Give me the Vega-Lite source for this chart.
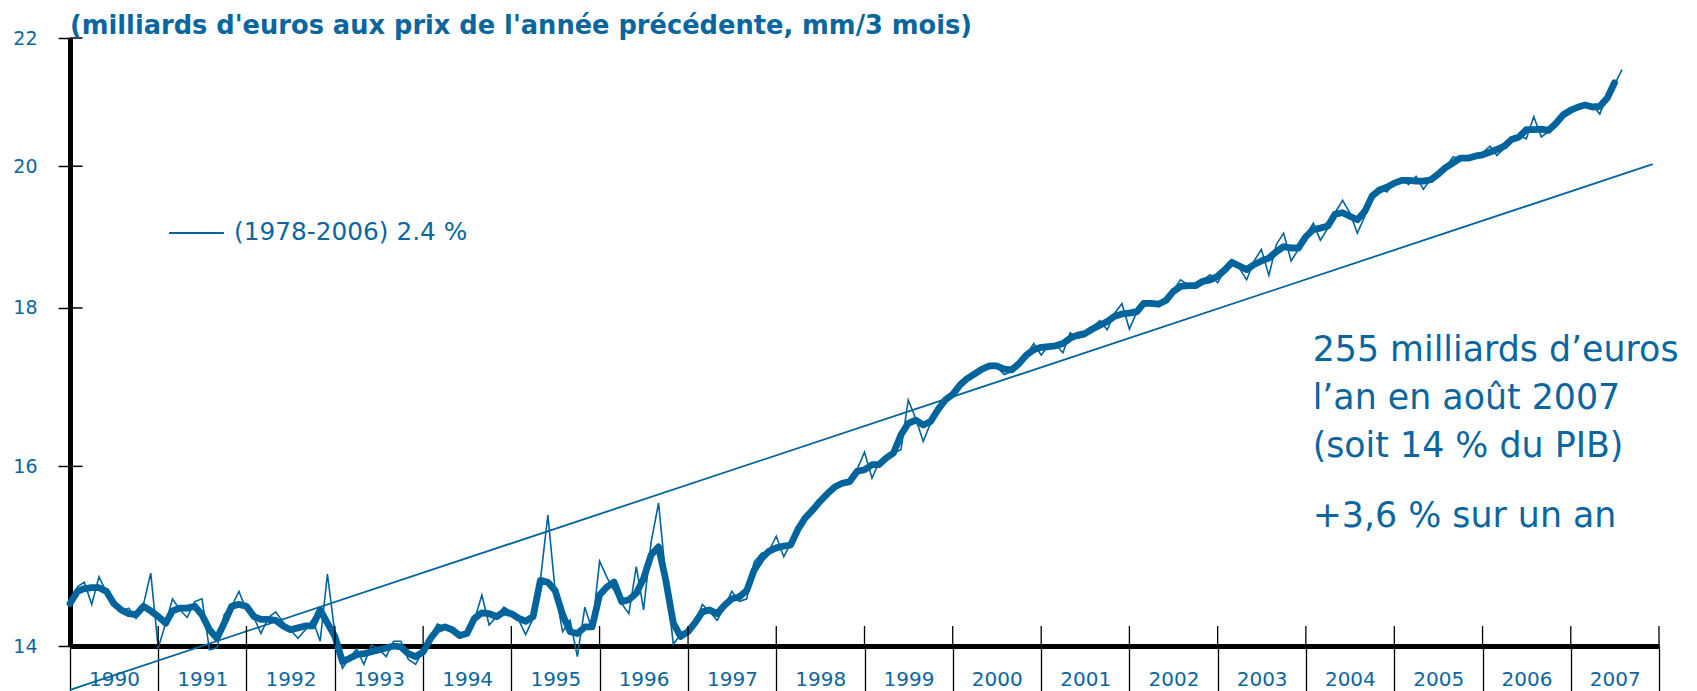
{
  "$schema": "https://vega.github.io/schema/vega-lite/v6.json",
  "width": 1589,
  "height": 608,
  "autosize": {"type": "none"},
  "padding": {"left": 70, "top": 38, "right": 38, "bottom": 45},
  "background": "white",
  "config": {"view": {"stroke": null}, "font": "DejaVu Sans"},
  "title": {
    "text": "(milliards d'euros aux prix de l'année précédente, mm/3 mois)",
    "anchor": "start",
    "frame": "group",
    "font": "DejaVu Sans",
    "fontSize": 25.7,
    "fontWeight": "bold",
    "color": "#0a669e",
    "offset": 2,
    "dy": 13
  },
  "datasets": {
    "series": [
      {"d": "1990-01-01", "m": 14.45, "a": 14.45},
      {"d": "1990-02-01", "m": 14.63, "a": 14.58},
      {"d": "1990-03-01", "m": 14.68, "a": 14.61},
      {"d": "1990-04-01", "m": 14.44, "a": 14.62},
      {"d": "1990-05-01", "m": 14.74, "a": 14.62},
      {"d": "1990-06-01", "m": 14.57, "a": 14.58},
      {"d": "1990-07-01", "m": 14.47, "a": 14.45},
      {"d": "1990-08-01", "m": 14.37, "a": 14.38},
      {"d": "1990-09-01", "m": 14.40, "a": 14.34},
      {"d": "1990-10-01", "m": 14.29, "a": 14.33},
      {"d": "1990-11-01", "m": 14.44, "a": 14.42},
      {"d": "1990-12-01", "m": 14.78, "a": 14.37},
      {"d": "1991-01-01", "m": 13.98, "a": 14.31},
      {"d": "1991-02-01", "m": 14.24, "a": 14.24},
      {"d": "1991-03-01", "m": 14.50, "a": 14.37},
      {"d": "1991-04-01", "m": 14.38, "a": 14.40},
      {"d": "1991-05-01", "m": 14.30, "a": 14.40},
      {"d": "1991-06-01", "m": 14.47, "a": 14.42},
      {"d": "1991-07-01", "m": 14.50, "a": 14.33},
      {"d": "1991-08-01", "m": 13.96, "a": 14.17},
      {"d": "1991-09-01", "m": 13.98, "a": 14.08},
      {"d": "1991-10-01", "m": 14.33, "a": 14.24},
      {"d": "1991-11-01", "m": 14.42, "a": 14.42},
      {"d": "1991-12-01", "m": 14.58, "a": 14.44},
      {"d": "1992-01-01", "m": 14.38, "a": 14.42},
      {"d": "1992-02-01", "m": 14.30, "a": 14.31},
      {"d": "1992-03-01", "m": 14.13, "a": 14.28},
      {"d": "1992-04-01", "m": 14.30, "a": 14.28},
      {"d": "1992-05-01", "m": 14.36, "a": 14.27},
      {"d": "1992-06-01", "m": 14.25, "a": 14.21},
      {"d": "1992-07-01", "m": 14.17, "a": 14.17},
      {"d": "1992-08-01", "m": 14.08, "a": 14.19},
      {"d": "1992-09-01", "m": 14.17, "a": 14.21},
      {"d": "1992-10-01", "m": 14.28, "a": 14.21},
      {"d": "1992-11-01", "m": 14.05, "a": 14.38},
      {"d": "1992-12-01", "m": 14.77, "a": 14.24},
      {"d": "1993-01-01", "m": 14.13, "a": 14.10},
      {"d": "1993-02-01", "m": 13.77, "a": 13.84},
      {"d": "1993-03-01", "m": 13.87, "a": 13.87},
      {"d": "1993-04-01", "m": 13.97, "a": 13.91},
      {"d": "1993-05-01", "m": 13.81, "a": 13.92},
      {"d": "1993-06-01", "m": 14.01, "a": 13.94},
      {"d": "1993-07-01", "m": 13.97, "a": 13.96},
      {"d": "1993-08-01", "m": 13.89, "a": 13.98},
      {"d": "1993-09-01", "m": 14.05, "a": 14.00},
      {"d": "1993-10-01", "m": 14.05, "a": 13.99},
      {"d": "1993-11-01", "m": 13.86, "a": 13.92},
      {"d": "1993-12-01", "m": 13.81, "a": 13.89},
      {"d": "1994-01-01", "m": 13.96, "a": 13.94},
      {"d": "1994-02-01", "m": 14.10, "a": 14.08},
      {"d": "1994-03-01", "m": 14.23, "a": 14.17},
      {"d": "1994-04-01", "m": 14.20, "a": 14.20},
      {"d": "1994-05-01", "m": 14.15, "a": 14.17},
      {"d": "1994-06-01", "m": 14.08, "a": 14.11},
      {"d": "1994-07-01", "m": 14.12, "a": 14.13},
      {"d": "1994-08-01", "m": 14.27, "a": 14.29},
      {"d": "1994-09-01", "m": 14.54, "a": 14.35},
      {"d": "1994-10-01", "m": 14.22, "a": 14.34},
      {"d": "1994-11-01", "m": 14.31, "a": 14.31},
      {"d": "1994-12-01", "m": 14.41, "a": 14.36},
      {"d": "1995-01-01", "m": 14.36, "a": 14.34},
      {"d": "1995-02-01", "m": 14.27, "a": 14.29},
      {"d": "1995-03-01", "m": 14.12, "a": 14.26},
      {"d": "1995-04-01", "m": 14.29, "a": 14.31},
      {"d": "1995-05-01", "m": 14.70, "a": 14.70},
      {"d": "1995-06-01", "m": 15.43, "a": 14.68},
      {"d": "1995-07-01", "m": 14.59, "a": 14.59},
      {"d": "1995-08-01", "m": 14.15, "a": 14.33},
      {"d": "1995-09-01", "m": 14.27, "a": 14.15},
      {"d": "1995-10-01", "m": 13.89, "a": 14.13},
      {"d": "1995-11-01", "m": 14.41, "a": 14.20},
      {"d": "1995-12-01", "m": 14.17, "a": 14.20},
      {"d": "1996-01-01", "m": 14.91, "a": 14.54},
      {"d": "1996-02-01", "m": 14.73, "a": 14.63},
      {"d": "1996-03-01", "m": 14.59, "a": 14.68},
      {"d": "1996-04-01", "m": 14.45, "a": 14.47},
      {"d": "1996-05-01", "m": 14.34, "a": 14.49},
      {"d": "1996-06-01", "m": 14.85, "a": 14.56},
      {"d": "1996-07-01", "m": 14.38, "a": 14.72},
      {"d": "1996-08-01", "m": 15.12, "a": 14.98},
      {"d": "1996-09-01", "m": 15.57, "a": 15.07},
      {"d": "1996-10-01", "m": 14.73, "a": 14.70},
      {"d": "1996-11-01", "m": 14.02, "a": 14.24},
      {"d": "1996-12-01", "m": 14.12, "a": 14.10},
      {"d": "1997-01-01", "m": 14.14, "a": 14.15},
      {"d": "1997-02-01", "m": 14.24, "a": 14.25},
      {"d": "1997-03-01", "m": 14.44, "a": 14.36},
      {"d": "1997-04-01", "m": 14.36, "a": 14.38},
      {"d": "1997-05-01", "m": 14.27, "a": 14.34},
      {"d": "1997-06-01", "m": 14.41, "a": 14.43},
      {"d": "1997-07-01", "m": 14.58, "a": 14.50},
      {"d": "1997-08-01", "m": 14.47, "a": 14.52},
      {"d": "1997-09-01", "m": 14.50, "a": 14.59},
      {"d": "1997-10-01", "m": 14.90, "a": 14.81},
      {"d": "1997-11-01", "m": 15.00, "a": 14.94},
      {"d": "1997-12-01", "m": 15.02, "a": 15.02},
      {"d": "1998-01-01", "m": 15.19, "a": 15.06},
      {"d": "1998-02-01", "m": 14.96, "a": 15.08},
      {"d": "1998-03-01", "m": 15.11, "a": 15.09},
      {"d": "1998-04-01", "m": 15.27, "a": 15.27},
      {"d": "1998-05-01", "m": 15.40, "a": 15.40},
      {"d": "1998-06-01", "m": 15.49, "a": 15.49},
      {"d": "1998-07-01", "m": 15.59, "a": 15.59},
      {"d": "1998-08-01", "m": 15.69, "a": 15.68},
      {"d": "1998-09-01", "m": 15.76, "a": 15.76},
      {"d": "1998-10-01", "m": 15.80, "a": 15.80},
      {"d": "1998-11-01", "m": 15.80, "a": 15.82},
      {"d": "1998-12-01", "m": 15.96, "a": 15.94},
      {"d": "1999-01-01", "m": 16.17, "a": 15.96},
      {"d": "1999-02-01", "m": 15.86, "a": 16.02},
      {"d": "1999-03-01", "m": 16.04, "a": 16.02},
      {"d": "1999-04-01", "m": 16.08, "a": 16.10},
      {"d": "1999-05-01", "m": 16.16, "a": 16.16},
      {"d": "1999-06-01", "m": 16.20, "a": 16.38},
      {"d": "1999-07-01", "m": 16.81, "a": 16.52},
      {"d": "1999-08-01", "m": 16.58, "a": 16.56},
      {"d": "1999-09-01", "m": 16.30, "a": 16.50},
      {"d": "1999-10-01", "m": 16.52, "a": 16.54},
      {"d": "1999-11-01", "m": 16.69, "a": 16.69},
      {"d": "1999-12-01", "m": 16.83, "a": 16.81},
      {"d": "2000-01-01", "m": 16.85, "a": 16.88},
      {"d": "2000-02-01", "m": 17.04, "a": 17.00},
      {"d": "2000-03-01", "m": 17.10, "a": 17.08},
      {"d": "2000-04-01", "m": 17.13, "a": 17.14},
      {"d": "2000-05-01", "m": 17.21, "a": 17.20},
      {"d": "2000-06-01", "m": 17.25, "a": 17.24},
      {"d": "2000-07-01", "m": 17.23, "a": 17.24},
      {"d": "2000-08-01", "m": 17.13, "a": 17.20},
      {"d": "2000-09-01", "m": 17.17, "a": 17.19},
      {"d": "2000-10-01", "m": 17.25, "a": 17.27},
      {"d": "2000-11-01", "m": 17.38, "a": 17.38},
      {"d": "2000-12-01", "m": 17.53, "a": 17.45},
      {"d": "2001-01-01", "m": 17.38, "a": 17.48},
      {"d": "2001-02-01", "m": 17.51, "a": 17.49},
      {"d": "2001-03-01", "m": 17.52, "a": 17.50},
      {"d": "2001-04-01", "m": 17.41, "a": 17.53},
      {"d": "2001-05-01", "m": 17.67, "a": 17.60},
      {"d": "2001-06-01", "m": 17.60, "a": 17.64},
      {"d": "2001-07-01", "m": 17.62, "a": 17.66},
      {"d": "2001-08-01", "m": 17.75, "a": 17.72},
      {"d": "2001-09-01", "m": 17.83, "a": 17.77},
      {"d": "2001-10-01", "m": 17.71, "a": 17.82},
      {"d": "2001-11-01", "m": 17.93, "a": 17.89},
      {"d": "2001-12-01", "m": 18.06, "a": 17.92},
      {"d": "2002-01-01", "m": 17.72, "a": 17.93},
      {"d": "2002-02-01", "m": 17.95, "a": 17.95},
      {"d": "2002-03-01", "m": 18.08, "a": 18.06},
      {"d": "2002-04-01", "m": 18.08, "a": 18.06},
      {"d": "2002-05-01", "m": 18.02, "a": 18.05},
      {"d": "2002-06-01", "m": 18.08, "a": 18.10},
      {"d": "2002-07-01", "m": 18.24, "a": 18.22},
      {"d": "2002-08-01", "m": 18.38, "a": 18.29},
      {"d": "2002-09-01", "m": 18.31, "a": 18.30},
      {"d": "2002-10-01", "m": 18.29, "a": 18.30},
      {"d": "2002-11-01", "m": 18.38, "a": 18.36},
      {"d": "2002-12-01", "m": 18.45, "a": 18.38},
      {"d": "2003-01-01", "m": 18.34, "a": 18.43},
      {"d": "2003-02-01", "m": 18.52, "a": 18.52},
      {"d": "2003-03-01", "m": 18.66, "a": 18.62},
      {"d": "2003-04-01", "m": 18.54, "a": 18.57},
      {"d": "2003-05-01", "m": 18.38, "a": 18.52},
      {"d": "2003-06-01", "m": 18.64, "a": 18.59},
      {"d": "2003-07-01", "m": 18.80, "a": 18.64},
      {"d": "2003-08-01", "m": 18.44, "a": 18.68},
      {"d": "2003-09-01", "m": 18.87, "a": 18.77},
      {"d": "2003-10-01", "m": 19.03, "a": 18.84},
      {"d": "2003-11-01", "m": 18.64, "a": 18.82},
      {"d": "2003-12-01", "m": 18.80, "a": 18.82},
      {"d": "2004-01-01", "m": 19.00, "a": 18.98},
      {"d": "2004-02-01", "m": 19.17, "a": 19.08},
      {"d": "2004-03-01", "m": 18.93, "a": 19.10},
      {"d": "2004-04-01", "m": 19.10, "a": 19.13},
      {"d": "2004-05-01", "m": 19.32, "a": 19.30},
      {"d": "2004-06-01", "m": 19.50, "a": 19.32},
      {"d": "2004-07-01", "m": 19.32, "a": 19.27},
      {"d": "2004-08-01", "m": 19.03, "a": 19.22},
      {"d": "2004-09-01", "m": 19.27, "a": 19.34},
      {"d": "2004-10-01", "m": 19.61, "a": 19.56},
      {"d": "2004-11-01", "m": 19.68, "a": 19.65},
      {"d": "2004-12-01", "m": 19.62, "a": 19.69},
      {"d": "2005-01-01", "m": 19.75, "a": 19.75},
      {"d": "2005-02-01", "m": 19.80, "a": 19.79},
      {"d": "2005-03-01", "m": 19.73, "a": 19.79},
      {"d": "2005-04-01", "m": 19.85, "a": 19.78},
      {"d": "2005-05-01", "m": 19.66, "a": 19.78},
      {"d": "2005-06-01", "m": 19.81, "a": 19.80},
      {"d": "2005-07-01", "m": 19.88, "a": 19.88},
      {"d": "2005-08-01", "m": 19.98, "a": 19.98},
      {"d": "2005-09-01", "m": 20.14, "a": 20.05},
      {"d": "2005-10-01", "m": 20.12, "a": 20.12},
      {"d": "2005-11-01", "m": 20.14, "a": 20.12},
      {"d": "2005-12-01", "m": 20.16, "a": 20.15},
      {"d": "2006-01-01", "m": 20.20, "a": 20.17},
      {"d": "2006-02-01", "m": 20.30, "a": 20.21},
      {"d": "2006-03-01", "m": 20.16, "a": 20.25},
      {"d": "2006-04-01", "m": 20.27, "a": 20.30},
      {"d": "2006-05-01", "m": 20.42, "a": 20.40},
      {"d": "2006-06-01", "m": 20.47, "a": 20.44},
      {"d": "2006-07-01", "m": 20.41, "a": 20.55},
      {"d": "2006-08-01", "m": 20.75, "a": 20.55},
      {"d": "2006-09-01", "m": 20.44, "a": 20.56},
      {"d": "2006-10-01", "m": 20.52, "a": 20.54},
      {"d": "2006-11-01", "m": 20.67, "a": 20.65},
      {"d": "2006-12-01", "m": 20.78, "a": 20.78},
      {"d": "2007-01-01", "m": 20.86, "a": 20.85},
      {"d": "2007-02-01", "m": 20.91, "a": 20.90},
      {"d": "2007-03-01", "m": 20.94, "a": 20.93},
      {"d": "2007-04-01", "m": 20.93, "a": 20.90},
      {"d": "2007-05-01", "m": 20.79, "a": 20.91},
      {"d": "2007-06-01", "m": 21.09, "a": 21.04},
      {"d": "2007-07-01", "m": 21.25, "a": 21.28},
      {"d": "2007-08-01", "m": 21.49}
    ],
    "trend": [
      {"d": "1990-01-01", "t": 13.55},
      {"d": "2007-12-06", "t": 20.03}
    ],
    "yticks": [{"v": 14}, {"v": 16}, {"v": 18}, {"v": 20}, {"v": 22}],
    "years": [
      {"y": "1990-01-01"}, {"y": "1991-01-01"}, {"y": "1992-01-01"}, {"y": "1993-01-01"},
      {"y": "1994-01-01"}, {"y": "1995-01-01"}, {"y": "1996-01-01"}, {"y": "1997-01-01"},
      {"y": "1998-01-01"}, {"y": "1999-01-01"}, {"y": "2000-01-01"}, {"y": "2001-01-01"},
      {"y": "2002-01-01"}, {"y": "2003-01-01"}, {"y": "2004-01-01"}, {"y": "2005-01-01"},
      {"y": "2006-01-01"}, {"y": "2007-01-01"}, {"y": "2008-01-01"}
    ],
    "notes": [
      {"lines": ["255 milliards d’euros", "l’an en août 2007", "(soit 14 % du PIB)"], "v": 17.30},
      {"lines": ["+3,6 % sur un an"], "v": 15.30}
    ]
  },
  "layer": [
    {
      "data": {"name": "series"},
      "mark": {"type": "line", "color": "#00649c", "strokeWidth": 1.6},
      "encoding": {
        "x": {
          "field": "d",
          "type": "temporal",
          "title": null,
          "scale": {"domain": [{"year": 1990, "month": 1, "date": 1}, {"year": 2008, "month": 1, "date": 1}]},
          "axis": {
            "format": "%Y",
            "tickCount": {"interval": "year", "step": 1},
            "labelExpr": "year(datum.value) > 2007 ? '' : datum.label",
            "labelOffset": 44,
            "labelFlush": false,
            "labelOverlap": false,
            "labelBound": false,
            "labelAlign": "center",
            "labelBaseline": "alphabetic",
            "labelPadding": -5.5,
            "labelFont": "DejaVu Sans",
            "labelFontSize": 20,
            "labelColor": "#0a669e",
            "tickSize": 45,
            "tickColor": "black",
            "tickWidth": 1.3,
            "domainColor": "black",
            "domainWidth": 5,
            "grid": false
          }
        },
        "y": {
          "field": "m",
          "type": "quantitative",
          "title": null,
          "scale": {"type": "log", "domain": [14, 22], "nice": false, "zero": false},
          "axis": {
            "values": [14, 16, 18, 20, 22],
            "format": "d",
            "labelFont": "DejaVu Sans",
            "labelFontSize": 19,
            "labelColor": "#0a669e",
            "labelPadding": 21,
            "tickSize": 12,
            "tickColor": "black",
            "tickWidth": 1.5,
            "domainColor": "black",
            "domainWidth": 5,
            "grid": false
          }
        }
      }
    },
    {
      "data": {"name": "series"},
      "mark": {"type": "line", "color": "#00649c", "strokeWidth": 6.8, "strokeJoin": "round", "strokeCap": "round"},
      "encoding": {
        "x": {"field": "d", "type": "temporal", "title": null},
        "y": {"field": "a", "type": "quantitative", "title": null}
      }
    },
    {
      "data": {"name": "trend"},
      "mark": {"type": "line", "strokeWidth": 1.8},
      "encoding": {
        "x": {"field": "d", "type": "temporal", "title": null},
        "y": {"field": "t", "type": "quantitative", "title": null},
        "color": {
          "datum": "(1978-2006) 2.4 %",
          "scale": {"range": ["#00649c"]},
          "legend": {
            "orient": "none",
            "legendX": 98,
            "legendY": 166.5,
            "title": null,
            "padding": 0,
            "symbolType": "stroke",
            "symbolSize": 3000,
            "symbolStrokeWidth": 1.8,
            "labelFont": "DejaVu Sans",
            "labelFontSize": 24.8,
            "labelColor": "#0a669e",
            "labelOffset": 9,
            "labelLimit": 0
          }
        }
      }
    },
    {
      "data": {"name": "yticks"},
      "mark": {"type": "rule", "color": "black", "strokeWidth": 1.5},
      "encoding": {
        "x": {"datum": {"year": 1990, "month": 1, "date": 1}, "type": "temporal"},
        "x2": {"datum": {"year": 1990, "month": 2, "date": 22}},
        "y": {"field": "v", "type": "quantitative", "title": null}
      }
    },
    {
      "data": {"name": "years"},
      "mark": {"type": "rule", "color": "black", "strokeWidth": 1.3},
      "encoding": {
        "x": {"field": "y", "type": "temporal", "title": null},
        "y": {"datum": 14},
        "y2": {"datum": 14.21}
      }
    },
    {
      "data": {"name": "notes"},
      "mark": {"type": "text", "align": "left", "baseline": "alphabetic", "font": "DejaVu Sans", "fontSize": 34.8, "color": "#0a669e", "lineHeight": 47.7},
      "encoding": {
        "x": {"datum": {"year": 2004, "month": 1, "date": 29}, "type": "temporal"},
        "y": {"field": "v", "type": "quantitative", "title": null},
        "text": {"field": "lines"}
      }
    }
  ]
}
